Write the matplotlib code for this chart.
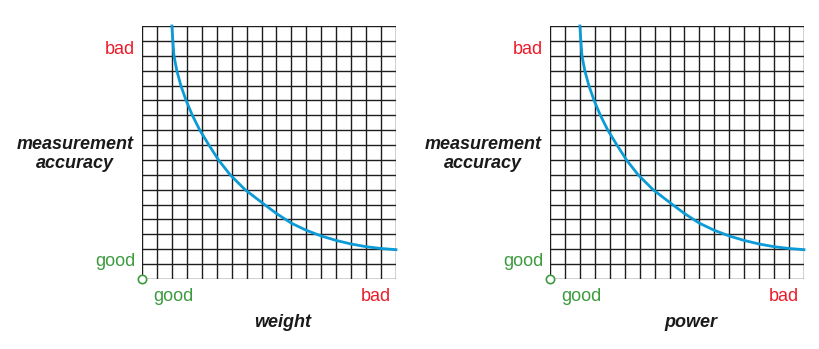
#!/usr/bin/env python3
"""Two trade-off sketches: measurement accuracy vs weight / power."""

import matplotlib

matplotlib.use("Agg")
import matplotlib.pyplot as plt

plt.rcParams["font.family"] = ["Liberation Sans", "DejaVu Sans"]

# grid is 17 x 17 cells; curve in cell units
n_cells = 17
curve_x = [2.0, 2.03, 2.08, 2.14, 2.33, 2.6, 2.95, 3.37, 3.87, 4.48, 5.12, 5.9,
           6.9, 8.2, 9.0, 10.0, 11.0, 12.0, 13.0, 14.0, 15.0, 16.0, 17.0]
curve_y = [17.0, 16.5, 15.8, 15.0, 14.0, 13.0, 12.0, 11.0, 10.0, 9.0, 8.0, 7.0,
           6.0, 5.0, 4.4, 3.75, 3.27, 2.89, 2.59, 2.35, 2.17, 2.05, 1.97]

x_labels = ["weight", "power"]
y_label = "measurement\naccuracy"
good_text = "good"
bad_text = "bad"

RED = "#ec1c2a"
GREEN = "#3d9b3f"
BLUE = "#0b9bd6"
GRID = "#1e1e1e"

fig = plt.figure(figsize=(8.19, 3.49), dpi=100)
lefts = [142 / 819, 550 / 819]
for left, xlab in zip(lefts, x_labels):
    ax = fig.add_axes([left, 70 / 349, 254 / 819, 253 / 349])
    ax.set_xlim(0, n_cells)
    ax.set_ylim(0, n_cells)
    for k in range(n_cells + 1):
        ax.axvline(k, color=GRID, lw=1.0, zorder=1)
        ax.axhline(k, color=GRID, lw=1.0, zorder=1)
    for s in ax.spines.values():
        s.set_visible(False)
    ax.set_xticks([])
    ax.set_yticks([])

    ax.plot(curve_x, curve_y, color=BLUE, lw=2.0, zorder=3, clip_on=False,
            solid_joinstyle="round")
    ax.plot([0], [0], "o", ms=6, mfc="white", mec=GREEN, mew=1.2,
            clip_on=False, zorder=4)

    ax.text(-0.45, 15.45, bad_text, color=RED, fontsize=13, ha="right", va="center")
    ax.text(-0.45, 1.15, good_text, color=GREEN, fontsize=13, ha="right", va="center")
    ax.text(2.1, -1.15, good_text, color=GREEN, fontsize=13, ha="center", va="center")
    ax.text(15.67, -1.15, bad_text, color=RED, fontsize=13, ha="center", va="center")
    ax.text(9.4, -2.9, xlab, fontsize=13, fontweight="bold", fontstyle="italic",
            ha="center", va="center", color="#1a1a1a")
    ax.text(-4.47, 8.4, y_label, fontsize=13, fontweight="bold", fontstyle="italic",
            ha="center", va="center", color="#1a1a1a", linespacing=1.2)

fig.savefig("out.png", dpi=100)
